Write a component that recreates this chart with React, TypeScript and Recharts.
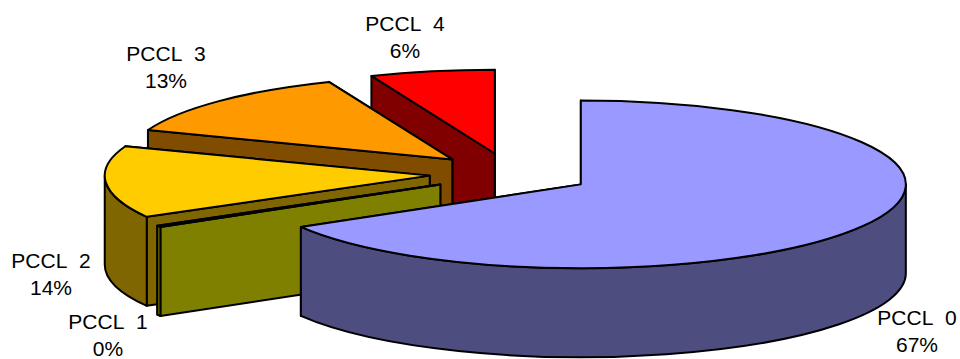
import React from "react";
import { PieChart, Pie } from "recharts";

// Series listed from the back of the pie to the front so nearer slices paint last.
const names = ["PCCL  4", "PCCL  3", "PCCL  2", "PCCL  1", "PCCL  0"];
const shares = [6.2, 13.1, 13.88, 0.3, 66.52];
const topColors = ["#FF0000", "#FF9900", "#FFCC00", "#FFFF00", "#9999FF"];
const wallColors = ["#800000", "#804D00", "#806600", "#808000", "#4D4D80"];
const labelCenters = [
  [405, 38],
  [166, 68],
  [51, 275],
  [108, 336],
  [917, 332],
];

const WIDTH = 960;
const HEIGHT = 359;
const PIE_CX = 510.5;
const PIE_CY = 174;
const RADIUS = 325;
const TILT = 0.258; // vertical squash of the disc
const DEPTH = 89; // thickness of the disc
const EXPLODE = 81; // distance every slice is pulled out of the centre
const FONT = '"Liberation Sans", Arial, sans-serif';

const rows = names.map((name, i) => ({
  name,
  value: shares[i],
  fill: topColors[i],
  wall: wallColors[i],
  labelAt: labelCenters[i],
}));

const rad = (deg: number) => (deg * Math.PI) / 180;

function Slice3D(props: any) {
  const { cx, cy, outerRadius, startAngle, endAngle, fill, stroke } = props;
  const wall = props.wall ?? props.payload?.wall;
  const lo = Math.min(startAngle, endAngle);
  const hi = Math.max(startAngle, endAngle);
  const mid = (lo + hi) / 2;
  const ry = outerRadius * TILT;

  const apexX = cx + EXPLODE * Math.cos(rad(mid));
  const apexY = cy - EXPLODE * Math.sin(rad(mid)) * TILT;
  const rim = (deg: number, drop = 0) =>
    `${apexX + outerRadius * Math.cos(rad(deg))} ${apexY - ry * Math.sin(rad(deg)) + drop}`;

  const top =
    `M ${apexX} ${apexY} L ${rim(lo)} ` +
    `A ${outerRadius} ${ry} 0 ${hi - lo > 180 ? 1 : 0} 0 ${rim(hi)} Z`;

  const face = (deg: number) =>
    `M ${apexX} ${apexY} L ${rim(deg)} L ${rim(deg, DEPTH)} L ${apexX} ${apexY + DEPTH} Z`;

  // The curved side only shows on the front half of the ellipse.
  const sides: string[] = [];
  for (const [from, to] of [
    [180, 360],
    [540, 720],
  ]) {
    const a = Math.max(lo, from);
    const b = Math.min(hi, to);
    if (b > a) {
      sides.push(
        `M ${rim(a)} A ${outerRadius} ${ry} 0 0 0 ${rim(b)} ` +
          `L ${rim(b, DEPTH)} A ${outerRadius} ${ry} 0 0 1 ${rim(a, DEPTH)} Z`,
      );
    }
  }

  const line = { stroke: stroke ?? "#000", strokeWidth: 2, strokeLinejoin: "round" as const };
  return (
    <g>
      <path d={face(lo)} fill={wall} {...line} />
      <path d={face(hi)} fill={wall} {...line} />
      {sides.map((d) => (
        <path key={d} d={d} fill={wall} {...line} />
      ))}
      <path d={top} fill={fill} {...line} />
    </g>
  );
}

function SliceLabel(props: any) {
  const { name, percent } = props;
  const at = props.labelAt ?? props.payload?.labelAt;
  return (
    <text x={at[0]} y={at[1]} textAnchor="middle" fontFamily={FONT} fontSize={21} fill="#000">
      <tspan x={at[0]} dy="-7">
        {name.replace("  ", "\u00A0\u00A0")}
      </tspan>
      <tspan x={at[0]} dy="27">
        {Math.round(percent * 100)}%
      </tspan>
    </text>
  );
}

export default function App() {
  return (
    <div style={{ position: "absolute", left: 0, top: 0, width: WIDTH, height: HEIGHT, background: "#fff" }}>
      <PieChart width={WIDTH} height={HEIGHT} margin={{ top: 0, right: 0, bottom: 0, left: 0 }}>
        <Pie
          data={rows}
          dataKey="value"
          nameKey="name"
          cx={PIE_CX}
          cy={PIE_CY}
          outerRadius={RADIUS}
          startAngle={90}
          endAngle={450}
          stroke="#000"
          shape={Slice3D}
          label={SliceLabel}
          labelLine={false}
          isAnimationActive={false}
        />
      </PieChart>
    </div>
  );
}
